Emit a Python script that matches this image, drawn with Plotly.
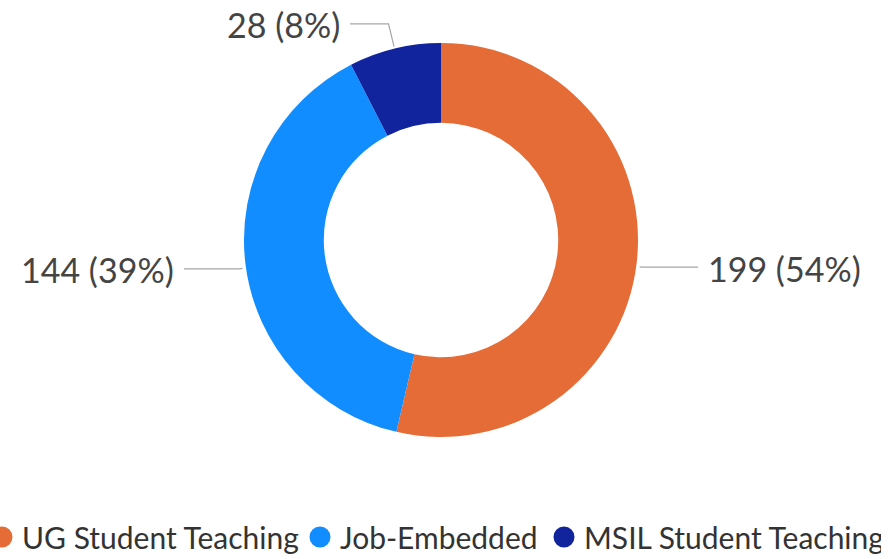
import math
import plotly.graph_objects as go

# ---- data ----
categories = ["UG Student Teaching", "Job-Embedded", "MSIL Student Teaching"]
values = [199, 144, 28]
colors = ["#E66C37", "#118DFF", "#12239E"]
legend_widths = [273, 199, 292]

W, H = 895, 559
MB = 60
PH = H - MB  # plot area height
CX, CY, R = 441, 240, 197


def px(x):
    return x / W


def py(y):
    return 1 - y / PH


fig = go.Figure()
fig.add_trace(go.Pie(
    labels=categories, values=values, sort=False, direction="clockwise", rotation=0,
    hole=0.595, marker=dict(colors=colors, line=dict(width=0)), textinfo="none",
    showlegend=False, hoverinfo="label+value+percent",
    domain=dict(x=[px(CX - R), px(CX + R)], y=[py(CY + R), py(CY - R)]),
))

# legend entries with round markers
for cat, col, lw in zip(categories, colors, legend_widths):
    fig.add_trace(go.Scatter(x=[None], y=[None], mode="markers", name=cat,
                             marker=dict(color=col, size=16, symbol="circle",
                                         line=dict(color=col, width=5)),
                             legendwidth=lw, showlegend=True))

# outside labels with leader lines, placed from the slice mid-angles
total = sum(values)
cum = 0
shapes = []
annotations = []
label_font = dict(family="Lato, 'Segoe UI', sans-serif", size=34, color="#444444")
for v in values:
    frac = (cum + v / 2) / total
    cum += v
    th = 2 * math.pi * frac
    s, c = math.sin(th), math.cos(th)
    sign = 1 if s >= 0 else -1
    r0 = R + 3
    r1 = r0 + 24 * abs(c)
    dy = 4 * abs(s)
    x0, y0 = CX + r0 * s, CY - r0 * c + dy
    x1, y1 = CX + r1 * s, CY - r1 * c + dy
    hl = 58 - 20 * abs(c)
    x2 = x1 + sign * hl
    shapes.append(dict(type="path", xref="paper", yref="paper",
                       path=f"M {px(x0)},{py(y0)} L {px(x1)},{py(y1)} L {px(x2)},{py(y1)}",
                       line=dict(color="#A6A6A6", width=1.2)))
    pct = round(100 * v / total)
    annotations.append(dict(xref="paper", yref="paper", x=px(x2 + sign * 8), y=py(y1 + 1),
                            text=f"{v} ({pct}%)", showarrow=False,
                            xanchor="left" if sign > 0 else "right", yanchor="middle",
                            font=label_font))

fig.update_layout(
    width=W, height=H,
    margin=dict(l=0, r=0, t=0, b=MB, autoexpand=False),
    paper_bgcolor="white", plot_bgcolor="white",
    xaxis=dict(visible=False), yaxis=dict(visible=False),
    shapes=shapes, annotations=annotations,
    showlegend=True,
    legend=dict(orientation="h", x=-18 / W, xanchor="left",
                y=-(537 - PH) / PH, yanchor="middle",
                itemwidth=30, traceorder="normal", bgcolor="rgba(0,0,0,0)",
                font=dict(family="Lato, 'Segoe UI', sans-serif", size=30, color="#333333")),
)

fig.write_html("out.html", config={"displayModeBar": False},
               post_script="document.body.style.margin='0';")
